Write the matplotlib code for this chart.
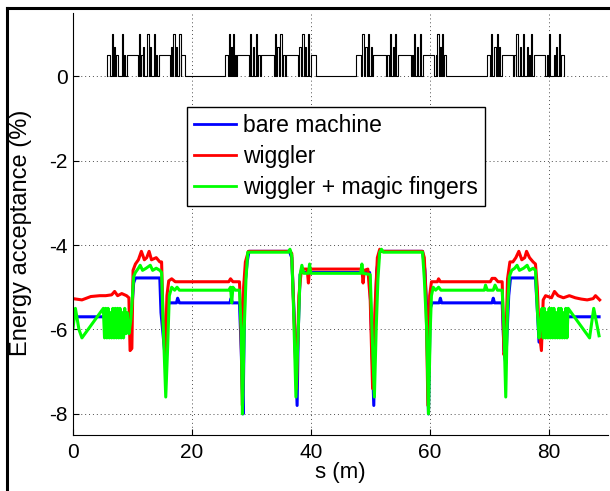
import matplotlib
matplotlib.use('Agg')
import matplotlib.pyplot as plt
from matplotlib.lines import Line2D
import numpy as np

plt.rcParams['font.family'] = ['Liberation Sans', 'DejaVu Sans']
plt.rcParams['axes.unicode_minus'] = False

# lattice elements (start s, end s, height) drawn at the top of the plot
lat_s0 = [5.8, 6.5, 6.9, 7.3, 8.2, 8.5, 9.0, 11.1, 11.5, 11.8, 12.5, 13.0, 13.6, 13.9, 14.4, 16.5, 16.9, 17.3, 17.9, 18.2,
          25.6, 26.2, 26.5, 26.9, 27.2, 27.6, 29.8, 30.3, 30.8, 31.2, 31.6, 34.0, 34.4, 34.9, 35.3, 35.8, 38.1, 38.6, 39.0, 39.5, 40.0,
          47.6, 48.7, 49.2, 49.6, 50.1, 50.5, 52.8, 53.3, 53.8, 54.2, 54.6, 57.0, 57.4, 57.9, 58.4, 58.8, 61.0, 61.3, 61.7, 62.0, 62.4,
          69.6, 70.3, 70.9, 71.3, 71.7, 72.1, 74.2, 74.6, 75.2, 75.7, 76.4, 76.7, 77.1, 77.5, 79.7, 80.0, 80.9, 81.3, 81.7, 82.1]
lat_s1 = [6.3, 6.7, 7.1, 7.5, 8.4, 8.7, 10.9, 11.3, 11.7, 12.0, 12.7, 13.2, 13.8, 14.2, 16.3, 16.7, 17.1, 17.5, 18.1, 18.8,
          26.0, 26.4, 26.7, 27.1, 27.4, 29.6, 30.0, 30.5, 31.0, 31.4, 33.8, 34.2, 34.6, 35.1, 35.6, 37.9, 38.3, 38.8, 39.2, 39.7, 40.8,
          48.4, 48.9, 49.4, 49.8, 50.3, 52.6, 53.1, 53.5, 54.0, 54.4, 56.8, 57.2, 57.6, 58.1, 58.6, 60.8, 61.2, 61.5, 61.9, 62.2, 62.8,
          70.2, 70.5, 71.1, 71.5, 71.9, 74.0, 74.5, 74.8, 75.4, 75.9, 76.6, 76.9, 77.3, 79.4, 79.9, 80.2, 81.1, 81.5, 81.9, 82.6]
lat_h = [0.5, 1.0, 0.7, 0.5, 1.0, 0.5, 0.5, 1.0, 0.5, 0.7, 1.0, 0.7, 1.0, 0.5, 0.5, 0.7, 1.0, 0.7, 1.0, 0.5,
         0.5, 1.0, 0.7, 1.0, 0.5, 0.5, 1.0, 0.7, 1.0, 0.5, 0.5, 1.0, 0.7, 1.0, 0.5, 0.5, 0.7, 1.0, 0.7, 1.0, 0.5,
         0.5, 1.0, 0.7, 1.0, 0.7, 0.5, 0.5, 1.0, 0.7, 1.0, 0.5, 0.5, 1.0, 0.7, 1.0, 0.5, 0.5, 1.0, 0.7, 1.0, 0.5,
         0.5, 1.0, 0.7, 1.0, 0.7, 0.5, 0.5, 1.0, 0.7, 1.0, 0.7, 0.5, 1.0, 0.5, 0.5, 1.0, 0.5, 0.7, 1.0, 0.5]

# bare machine
s_bare = [0, 9.8, 10.2, 10.5, 14.6, 14.8, 15.6, 16.0, 16.3, 17.4, 17.6, 17.9, 26.4, 26.6, 26.8, 28.0, 28.3, 28.6, 28.9, 29.3, 29.6,
          36.4, 36.8, 37.3, 37.7, 37.9, 38.2, 38.5, 49.9, 50.2, 50.6, 50.8, 51.1, 51.6, 58.8, 59.2, 59.5, 59.8, 60.1, 60.4,
          61.6, 61.8, 62.0, 70.5, 70.7, 70.9, 72.2, 72.5, 72.8, 73.3, 73.6, 77.8, 78.1, 78.4, 78.7, 88.5]
e_bare = [-5.7, -5.7, -4.9, -4.78, -4.78, -5.6, -6.8, -5.4, -5.37, -5.37, -5.26, -5.37, -5.37, -5.26, -5.37, -5.37, -6.5, -8.0, -5.0, -4.4, -4.15,
          -4.15, -4.3, -6.0, -7.8, -6.0, -4.7, -4.65, -4.65, -6.0, -7.8, -6.0, -4.6, -4.15, -4.15, -4.6, -5.5, -8.0, -5.5, -5.37,
          -5.37, -5.26, -5.37, -5.37, -5.26, -5.37, -5.37, -6.5, -6.8, -5.2, -4.78, -4.78, -5.5, -6.3, -5.7, -5.7]

# wiggler
s_wig = [0, 1.5, 3.0, 4.5, 5.5, 6.5, 7.0, 7.5, 8.2, 9.0, 9.4, 9.6, 9.9, 10.1, 10.5, 11.0, 11.5, 12.0, 12.4, 12.8, 13.2, 14.0, 14.6, 14.9,
         15.2, 15.5, 15.8, 16.1, 16.6, 17.2, 26.2, 26.5, 26.9, 28.0, 28.2, 28.5, 28.7, 29.0, 29.5, 36.5, 36.8, 37.2, 37.6, 38.0, 38.4, 38.7,
         39.4, 39.6, 39.8, 48.6, 48.8, 49.0, 49.6, 50.0, 50.4, 50.8, 51.2, 51.6, 51.9, 58.8, 59.1, 59.4, 59.7, 60.0, 60.3, 61.3, 61.5, 61.8,
         70.2, 70.5, 71.0, 71.5, 72.2, 72.5, 72.8, 73.1, 73.5, 74.0, 74.5, 75.0, 75.5, 76.0, 76.3, 76.8, 77.4, 77.8, 78.1, 78.4, 78.8,
         79.1, 79.5, 80.5, 81.0, 81.6, 82.5, 83.5, 84.5, 85.5, 86.5, 87.5, 87.9, 88.6]
e_wig = [-5.27, -5.3, -5.22, -5.2, -5.2, -5.18, -5.1, -5.2, -5.15, -5.2, -5.25, -6.5, -6.45, -4.6, -4.45, -4.35, -4.15, -4.35, -4.3, -4.15, -4.35, -4.3, -4.4, -4.4,
         -6.0, -6.6, -5.2, -4.85, -4.8, -4.87, -4.87, -4.8, -4.87, -4.87, -5.5, -7.8, -5.0, -4.4, -4.15, -4.15, -4.2, -5.8, -7.4, -5.2, -4.6, -4.57,
         -4.57, -4.9, -4.57, -4.57, -4.9, -4.6, -4.57, -5.3, -7.4, -5.5, -4.3, -4.1, -4.15, -4.15, -4.3, -5.3, -7.8, -5.2, -4.87, -4.87, -4.8, -4.87,
         -4.87, -4.79, -4.79, -4.87, -4.87, -6.6, -6.4, -4.8, -4.4, -4.4, -4.3, -4.15, -4.35, -4.3, -4.15, -4.3, -4.4, -4.45, -5.0, -6.0, -6.5,
         -5.3, -5.2, -5.25, -5.1, -5.2, -5.25, -5.2, -5.25, -5.28, -5.3, -5.27, -5.2, -5.3]

# wiggler + magic fingers
s_mf = [0, 0.4, 1.0, 1.5, 5.1, 5.3, 5.5, 5.7, 5.9, 6.1, 6.3, 6.5, 6.7, 6.9, 7.1, 7.3, 7.5, 7.7, 7.9, 8.1, 8.3, 8.5, 8.7, 8.9, 9.1, 9.4, 9.7,
        10.0, 10.2, 10.5, 11.0, 11.3, 11.7, 12.3, 13.0, 13.4, 14.0, 14.6, 14.9, 15.2, 15.6, 15.9, 16.2, 16.6, 17.1, 17.5, 17.9,
        26.2, 26.5, 26.7, 26.9, 27.3, 28.0, 28.3, 28.5, 28.8, 29.1, 29.4, 36.2, 36.5, 36.8, 37.1, 37.5, 37.9, 38.2, 38.5, 38.8,
        39.6, 39.8, 40.0, 48.4, 48.6, 48.8, 50.0, 50.3, 50.7, 51.0, 51.3, 51.6, 51.9, 52.2, 58.8, 59.1, 59.5, 59.8, 60.1, 60.3, 60.6,
        61.0, 61.5, 61.9, 69.2, 69.4, 69.7, 70.7, 71.0, 71.4, 72.2, 72.5, 72.8, 73.1, 73.4, 73.8, 74.3, 74.7, 75.1, 75.8, 76.4, 76.8,
        77.4, 77.8, 78.1, 78.4, 78.7, 78.9, 79.1, 79.3, 79.5, 79.7, 79.9, 80.1, 80.3, 80.5, 80.7, 80.9, 81.1, 81.3, 81.5, 81.7,
        81.9, 82.1, 82.3, 82.5, 82.7, 82.9, 83.1, 83.3, 86.9, 87.6, 88.5]
e_mf = [-5.97, -5.5, -6.0, -6.2, -5.5, -6.2, -5.5, -6.2, -5.5, -6.2, -5.6, -6.2, -5.5, -6.2, -5.5, -6.2, -5.5, -6.2, -5.5, -6.2, -5.6, -6.2, -5.5, -6.1, -5.6, -6.1, -5.8,
        -5.2, -4.75, -4.65, -4.55, -4.48, -4.6, -4.55, -4.48, -4.6, -4.55, -4.6, -4.65, -6.0, -7.6, -6.5, -5.2, -5.0, -5.07, -5.0, -5.07,
        -5.07, -5.0, -5.37, -5.0, -5.07, -5.07, -6.0, -8.0, -6.0, -4.8, -4.17, -4.17, -4.1, -4.25, -5.5, -7.6, -6.0, -4.7, -4.48, -4.67,
        -4.67, -4.45, -4.67, -4.67, -4.45, -4.67, -4.7, -6.0, -7.6, -6.0, -4.8, -4.17, -4.1, -4.17, -4.17, -4.8, -6.0, -8.0, -6.0, -5.2, -5.0,
        -5.07, -5.0, -5.07, -5.07, -4.95, -5.07, -5.07, -4.95, -5.07, -5.07, -6.0, -7.6, -5.5, -4.75, -4.6, -4.55, -4.48, -4.6, -4.55, -4.48, -4.6,
        -4.55, -4.6, -5.5, -6.2, -5.8, -5.5, -6.2, -5.5, -6.2, -5.6, -6.2, -5.5, -6.2, -5.5, -6.2, -5.5, -6.2, -5.6, -6.2, -5.5,
        -6.2, -5.5, -6.2, -5.6, -6.2, -5.5, -6.2, -5.5, -6.2, -5.5, -6.15]

fig = plt.figure(figsize=(6.1, 4.91), dpi=100)
ax = fig.add_axes([0.1197, 0.114, 0.877, 0.860])

# lattice as one step line along s=0
px, py = [lat_s0[0]], [0]
for a, b, h in zip(lat_s0, lat_s1, lat_h):
    px += [a, a, b, b]
    py += [0, h, h, 0]
ax.plot(px, py, color='k', lw=0.8)

ax.plot(s_bare, e_bare, color=(0, 0, 1), lw=2.2, label='bare machine')
ax.plot(s_wig, e_wig, color=(1, 0, 0), lw=2.2, label='wiggler')
ax.plot(s_mf, e_mf, color=(0, 1, 0), lw=2.2, label='wiggler + magic fingers')

ax.set_xlim(0, 90)
ax.set_ylim(-8.5, 1.5)
ax.set_xticks([0, 20, 40, 60, 80])
ax.set_yticks([-8, -6, -4, -2, 0])
ax.grid(True, color='0.3', linestyle=(0, (1, 3)), lw=0.7)
ax.tick_params(direction='in', length=4, labelsize=15, width=0.8)
ax.tick_params(axis='x', pad=6)
ax.tick_params(axis='y', pad=4)
for sp in ['top', 'right']:
    ax.spines[sp].set_visible(False)

ax.set_xlabel('s (m)', fontsize=16, labelpad=0)
ax.set_ylabel('Energy acceptance (%)', fontsize=17)
ax.yaxis.set_label_coords(-0.077, 0.48)

leg = ax.legend(loc='upper left', bbox_to_anchor=(0.2125, 0.776), fontsize=16.5, fancybox=False,
                framealpha=1, edgecolor='k', handlelength=1.85, handletextpad=0.3,
                borderpad=0.3, labelspacing=0.35, borderaxespad=0)
leg.get_frame().set_linewidth(1.0)
for ln in leg.get_lines():
    ln.set_linewidth(2.0)

# screenshot border on left and top
fig.add_artist(Line2D([0.0115, 0.0115], [0, 0.984], color='k', lw=2.2, transform=fig.transFigure))
fig.add_artist(Line2D([0.0115, 1.0], [0.984, 0.984], color='k', lw=2.2, transform=fig.transFigure))

fig.savefig('out.png', dpi=100)
